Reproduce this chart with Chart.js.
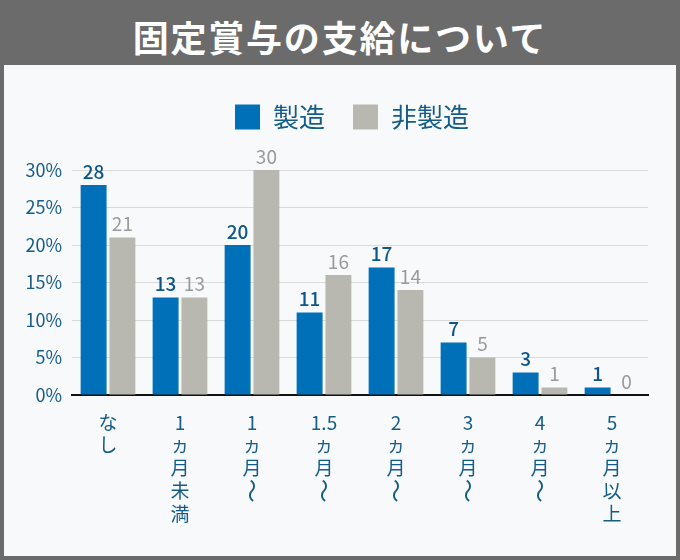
<!DOCTYPE html>
<html lang="ja">
<head>
<meta charset="utf-8">
<script src="https://cdn.jsdelivr.net/npm/chart.js@4"></script>
<style>
  html, body { margin: 0; padding: 0; }
  body { width: 680px; height: 560px; background: #6b6b6b; position: relative; overflow: hidden;
         font-family: "Noto Sans CJK JP", sans-serif; }
  #Title { position: absolute; left: 0; top: 0; width: 680px; height: 65px; line-height: 72px;
           text-align: center; color: #fff; font-size: 36px; font-weight: bold; letter-spacing: 1.8px; }
  #Panel { position: absolute; left: 4px; top: 65px; width: 672px; height: 491px; background: #f8f9fb; }
</style>
</head>
<body>
<div id="Title">固定賞与の支給について</div>
<div id="Panel"><canvas id="Bonus__Chart" width="672" height="491"></canvas></div>
<script>
/* categories (x axis) */
const categories = ["なし", "1ヵ月未満", "1ヵ月〜", "1.5ヵ月〜", "2ヵ月〜", "3ヵ月〜", "4ヵ月〜", "5ヵ月以上"];
/* series values in % */
const seriesNames = ["製造", "非製造"];
const manufacturing = [28, 13, 20, 11, 17, 7, 3, 1];
const nonManufacturing = [21, 13, 30, 16, 14, 5, 1, 0];
/* y axis ticks */
const yTicks = [0, 5, 10, 15, 20, 25, 30];

const BLUE = "#0070b8";
const GRAY = "#b9b8b0";
const TEXT_BLUE = "#145c88";
const FONT = "'Noto Sans CJK JP', sans-serif";
const TICK_SIZE = 19;
const TICK_LINE = 1.2;
const TICK_PAD = 16;

/* split a category name into vertical lines, keeping numbers together.
   the wave dash gets a blank line here and is drawn turned by the plugin below */
function VerticalLabel(name){
  return name.match(/[0-9.]+|./g).map(c => c === "〜" ? " " : c);
}

/* draws the numbers above each bar */
const ValueLabels = {
  id: "valueLabels",
  afterDatasetsDraw(chart){
    const ctx = chart.ctx;
    ctx.save();
    ctx.textAlign = "center";
    ctx.textBaseline = "bottom";
    chart.data.datasets.forEach((ds, i) => {
      const meta = chart.getDatasetMeta(i);
      ctx.font = (i === 0 ? "500 " : "") + "19px " + FONT;
      ctx.fillStyle = i === 0 ? "#0d5687" : "#9a9a9a";
      meta.data.forEach((bar, j) => {
        ctx.fillText(ds.data[j], bar.x, bar.y - 4);
      });
    });
    ctx.restore();
  }
};

/* vertical text: turn the wave dash 90 degrees under its tick */
const VerticalWave = {
  id: "verticalWave",
  afterDraw(chart){
    const scale = chart.scales.x;
    const ctx = chart.ctx;
    const lh = TICK_SIZE * TICK_LINE;
    ctx.save();
    ctx.fillStyle = TEXT_BLUE;
    ctx.font = "24px " + FONT;
    ctx.textAlign = "center";
    ctx.textBaseline = "middle";
    categories.forEach((name, i) => {
      const parts = name.match(/[0-9.]+|./g);
      const k = parts.indexOf("〜");
      if (k < 0) return;
      const x = scale.getPixelForTick(i);
      const y = scale.top + TICK_PAD + lh * (k + 0.5);
      ctx.save();
      ctx.translate(x, y);
      ctx.rotate(Math.PI / 2);
      ctx.fillText("〜", 0, 0);
      ctx.restore();
    });
    ctx.restore();
  }
};

/* give the legend a fixed height so the plot starts where it should,
   and move it a little to the right like the original */
const LegendPlace = {
  id: "legendPlace",
  beforeInit(chart){
    const fit = chart.legend.fit;
    chart.legend.fit = function(){
      fit.bind(chart.legend)();
      this.height = 94;
    };
  },
  afterLayout(chart){
    chart.legend.left += 52;
  }
};

new Chart(document.getElementById("Bonus__Chart"), {
  type: "bar",
  plugins: [ValueLabels, VerticalWave, LegendPlace],
  data: {
    labels: categories.map(VerticalLabel),
    datasets: [
      { label: seriesNames[0], data: manufacturing, backgroundColor: BLUE },
      { label: seriesNames[1], data: nonManufacturing, backgroundColor: GRAY }
    ]
  },
  options: {
    responsive: false,
    animation: false,
    layout: { padding: { top: 11, right: 28, bottom: 0, left: 0 } },
    datasets: { bar: { categoryPercentage: 0.8, barPercentage: 0.9 } },
    plugins: {
      tooltip: { enabled: false },
      legend: {
        position: "top",
        labels: {
          boxWidth: 25, boxHeight: 25, padding: 28,
          color: TEXT_BLUE,
          font: { family: FONT, size: 26 }
        }
      }
    },
    scales: {
      x: {
        grid: { display: false, drawTicks: false },
        border: { color: "#111", width: 2 },
        ticks: {
          color: TEXT_BLUE, padding: TICK_PAD, maxRotation: 0, autoSkip: false,
          font: { family: FONT, size: TICK_SIZE, lineHeight: TICK_LINE }
        },
        afterFit(scale){ scale.height = 161; }
      },
      y: {
        min: yTicks[0], max: yTicks[yTicks.length - 1],
        afterBuildTicks(scale){ scale.ticks = yTicks.map(v => ({ value: v })); },
        grid: { color: "#dadada", drawTicks: false },
        border: { display: false },
        ticks: {
          color: TEXT_BLUE, padding: 10,
          font: { family: FONT, size: 18 },
          callback: v => v + "%"
        },
        afterFit(scale){ scale.width = 68; }
      }
    }
  }
});
</script>
</body>
</html>
